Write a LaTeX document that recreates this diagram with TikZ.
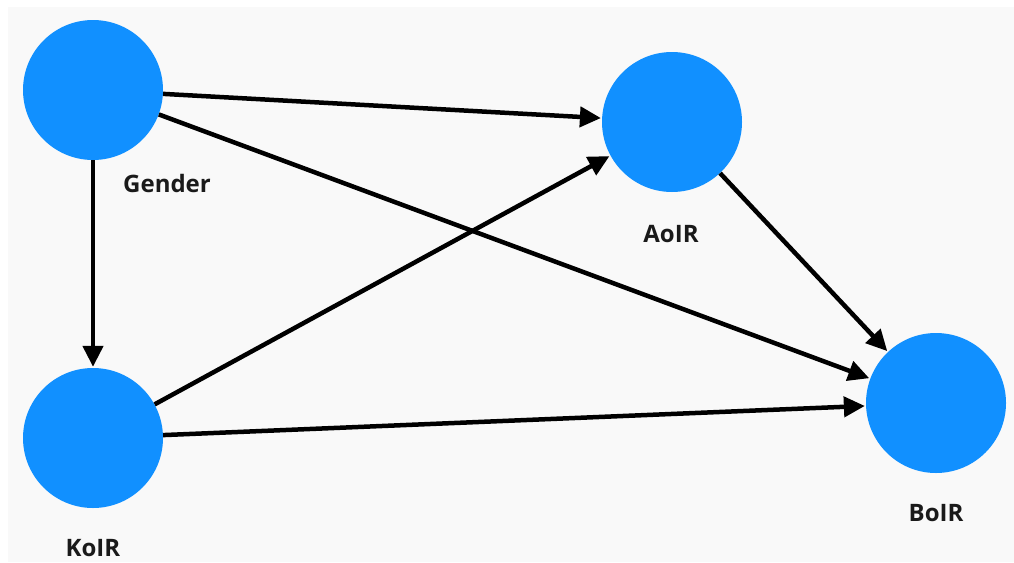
\documentclass[tikz,border=0pt]{standalone}
\usepackage{fontspec}
\setmainfont{Open Sans}
\usetikzlibrary{arrows.meta}
\definecolor{nodeblue}{RGB}{17,144,255}
\definecolor{bggray}{RGB}{249,249,249}
\definecolor{txt}{RGB}{26,26,26}
\tikzset{
  var/.style={circle, fill=nodeblue, minimum size=140pt, inner sep=0pt, draw=none},
  lab/.style={font=\fontsize{24}{26}\selectfont\bfseries, text=txt, inner sep=0pt},
  link/.style={line width=4.5pt, -{Triangle[length=21pt, width=20pt]}, shorten >=1pt},
}
\begin{document}
\begin{tikzpicture}[x=1pt, y=-1pt]
\useasboundingbox (0,0) rectangle (1014,562);
\fill[white] (0,0) rectangle (1014,562);
\fill[bggray] (8,7) rectangle (1014,562);
\node[var] (g) at (93,90) {};
\node[var] (a) at (672,122) {};
\node[var] (b) at (936,403) {};
\node[var] (k) at (93,438) {};
\node[lab] (gl) at (167,183) {Gender};
\node[lab] (al) at (671,234) {AoIR};
\node[lab] (bl) at (936,513) {BoIR};
\node[lab] (kl) at (93,548) {KoIR};
\draw[link] (g) -- (a);
\draw[link] (g) -- (b);
\draw[link] (g) -- (k);
\draw[link] (k) -- (a);
\draw[link] (k) -- (b);
\draw[link] (a) -- (b);
\end{tikzpicture}
\end{document}
